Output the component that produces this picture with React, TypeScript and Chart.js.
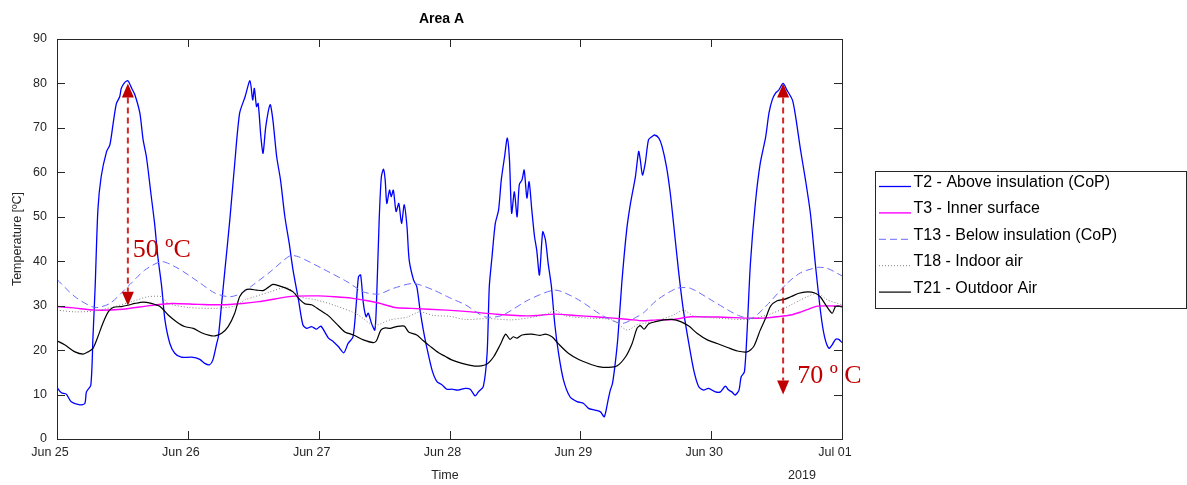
import { useEffect, useRef } from 'react';
import { Chart, registerables } from 'chart.js';

Chart.register(...registerables);

// ---------- data ----------
const dayLabels = ['Jun 25', 'Jun 26', 'Jun 27', 'Jun 28', 'Jun 29', 'Jun 30', 'Jul 01'];
const yMin = 0;
const yMax = 90;
const yStep = 10;

const seriesNames = [
  'T2 - Above insulation (CoP)',
  'T3 - Inner surface',
  'T13 - Below insulation (CoP)',
  'T18 - Indoor air',
  'T21 - Outdoor Air',
];

// hours since Jun 25 00:00
const t2Hours = [0, 0.8, 1.7, 2.6, 4.2, 5.1, 5.4, 6.2, 6.6, 7.0, 7.5, 8.1, 9.1, 9.7, 10.3, 10.9, 11.5, 11.8, 12.4, 13.0, 13.7, 14.3, 15.2, 15.8, 16.4, 17.3, 17.9, 18.5, 19.2, 19.8, 20.7, 21.6, 22.8, 24.7, 26.2, 27.1, 28.0, 28.6, 29.3, 29.6, 30.2, 30.8, 31.7, 32.6, 33.5, 34.5, 35.4, 35.9, 36.2, 36.6, 36.9, 37.4, 37.8, 38.3, 39.1, 39.6, 40.3, 41.0, 41.8, 42.6, 43.3, 44.3, 45.1, 45.8, 46.7, 47.6, 48.4, 49.8, 50.7, 51.6, 52.6, 53.4, 54.3, 54.9, 55.3, 55.7, 56.2, 56.7, 57.1, 57.7, 58.3, 58.6, 59.1, 59.5, 59.9, 60.2, 60.5, 61.0, 61.3, 61.7, 62.2, 62.7, 63.2, 63.7, 64.2, 64.6, 65.4, 66.0, 66.6, 67.2, 67.8, 68.8, 69.7, 70.6, 71.5, 72.4, 73.6, 74.9, 75.8, 76.7, 77.3, 78.2, 78.9, 79.3, 79.8, 80.4, 81.0, 81.5, 82.1, 82.6, 83.0, 83.4, 83.9, 84.4, 84.8, 85.3, 85.7, 86.2, 86.6, 87.1, 87.6, 88.0, 88.5, 89.1, 89.6, 90.1, 90.7, 91.3, 92.0, 92.9, 94.1, 95.4, 96.6, 97.5, 98.7, 99.7, 100.4, 101.1, 101.5, 101.9, 102.4, 102.9, 103.6, 104.5, 105.2, 106.1, 106.7, 107.0, 107.4, 107.9, 108.5, 109.1, 109.6, 110.4, 111.0, 111.8, 112.5, 113.1, 114.0, 114.9, 115.9, 116.8, 117.7, 118.6, 119.5, 120.8, 121.7, 122.6, 123.2, 123.8, 124.4, 125.1, 125.5, 126.1, 126.6, 127.2, 128.1, 129.0, 130.0, 130.6, 131.2, 131.8, 132.4, 133.2, 133.9, 134.9, 135.5, 136.4, 137.3, 138.2, 139.1, 140.1, 140.8, 141.6, 142.2, 142.8, 143.4, 144];
const t2Temp = [11.6, 10.4, 10.1, 8.4, 7.7, 8.0, 10.6, 12.1, 23, 34.3, 51.5, 59, 64.7, 66.2, 71, 75.5, 77, 78.9, 80.2, 80.6, 78.9, 77.4, 73.3, 67.3, 63.5, 54.5, 48.5, 41, 34.3, 26.8, 21.5, 19.3, 18.4, 18.4, 17.9, 17, 16.7, 17.8, 21.5, 23, 30.5, 38, 49.3, 62, 73.3, 77, 80.6, 76.3, 78.9, 74.8, 75.5, 68, 64.3, 70.3, 75.2, 71.8, 63.5, 58.3, 50, 44, 38, 31.3, 25.7, 24.9, 25.3, 24.7, 25.4, 22.7, 21.9, 20.8, 19.4, 21.5, 23, 30.5, 36.5, 36.9, 30.5, 27.5, 28.3, 26, 24.5, 30.5, 49.3, 59, 60.7, 58.3, 53, 56, 54.5, 56, 51.2, 53, 48.5, 52.7, 47.8, 40.3, 35.8, 34.3, 29, 24.5, 20.8, 15.5, 12.9, 12.2, 11.2, 11.2, 11, 11.4, 11.2, 9.7, 10.6, 11.8, 19.3, 34.3, 41, 48.5, 51.5, 58.3, 63.5, 67.7, 62.8, 50.8, 55.6, 50, 57.2, 58.3, 60.5, 54.2, 57.9, 51.5, 45.5, 42.5, 36.9, 46.6, 44.8, 39.5, 34.3, 26, 19.3, 13.3, 9.5, 8.4, 8, 6.9, 6.5, 6.1, 5.0, 8.8, 11, 12.5, 17, 23, 35, 47, 53, 59, 64.7, 62.8, 59.4, 62, 67.3, 68, 68.4, 67.7, 65.8, 61.3, 55.3, 48.5, 38, 29, 21.5, 15.5, 11.8, 11, 11.4, 10.6, 10.6, 11.9, 11, 10.6, 9.9, 11, 14, 15.1, 24.5, 39.5, 53, 62, 68, 73.3, 76.3, 77.8, 78.5, 80, 78.5, 76.3, 72.5, 65, 58.3, 50.8, 39.5, 28.3, 23, 20.4, 21.2, 22.4, 22.4, 21.7];

const t3Hours = [0, 3, 7, 12, 17, 21, 26, 30, 34, 37, 40, 43, 48, 51, 54, 57, 59, 62, 65, 71.5, 76, 80.4, 86.5, 91.4, 95, 98.7, 102, 104.9, 107.5, 110, 113.1, 116.2, 122.3, 126.6, 129.6, 132, 134.6, 136.5, 137.6, 139.5, 144];
const t3Temp = [29.8, 29.5, 29.0, 29.2, 30.0, 30.5, 30.3, 30.2, 30.5, 30.9, 31.5, 32.1, 32.2, 32.0, 31.7, 31.1, 30.6, 29.6, 29.4, 29.0, 28.6, 28.1, 27.7, 28.1, 27.8, 27.5, 27.2, 26.9, 26.6, 26.8, 26.9, 27.5, 27.4, 27.2, 27.2, 27.5, 27.9, 28.6, 29.1, 29.9, 29.9];

const t13Hours = [0, 3.3, 6.9, 9.7, 13, 16.1, 19.2, 22.2, 25.9, 29, 31.7, 33.9, 36, 39.1, 42.7, 44.3, 48.9, 53.2, 56.2, 59, 61.7, 65.4, 69.1, 72, 74.9, 78.5, 81.6, 86.5, 91.4, 95.7, 100, 103.6, 106.4, 107.6, 110.1, 113.7, 116.2, 120.5, 124.8, 127.5, 130.3, 133.9, 136.4, 139.5, 141.3, 144];
const t13Temp = [35.9, 32, 29.6, 30.5, 34.3, 38, 39.9, 38.4, 35.4, 32.8, 32, 32.8, 34.7, 37.6, 41.2, 41, 38.2, 35.4, 33.1, 32.6, 33.9, 35, 33.5, 31.8, 30.2, 27.5, 27.8, 31.3, 33.5, 31.3, 27.8, 26, 27.5, 28.4, 31.3, 33.9, 33.9, 30.9, 27.9, 27.2, 30.2, 35, 37.4, 38.6, 38.4, 36.7];

const t18Hours = [0, 3.3, 6.8, 10, 13.7, 16.7, 19.2, 20.4, 24.1, 29, 32.6, 34.5, 36.2, 39.1, 42.1, 44.6, 47.6, 51.3, 55, 57.4, 58.6, 61.1, 64.2, 66.5, 69, 72, 74.9, 79.2, 83.4, 87.7, 90.2, 91.4, 93.2, 97.5, 101.8, 104.6, 106.4, 107.6, 110.1, 113.1, 114.9, 116.8, 121.1, 126.6, 130.3, 133.4, 136.4, 139.5, 141.3, 144];
const t18Temp = [29.0, 28.6, 28.8, 29.6, 30.9, 32, 32, 30.5, 29.6, 29.4, 29.9, 31.3, 32, 33.1, 34.1, 32, 31.3, 29.9, 28.1, 26, 25.6, 26.8, 27.4, 28.6, 27.8, 27.6, 26.9, 27.1, 26.8, 27.5, 28.3, 29, 27.7, 27.2, 26.8, 24.5, 25.7, 26, 26.6, 27.9, 29, 27.7, 27.2, 26.9, 27.9, 29.4, 31.3, 32.8, 31.3, 30.2];

const t21Hours = [0, 1.4, 3.3, 4.8, 5.7, 6.6, 7.5, 8.4, 9.4, 10.3, 11.8, 13.0, 14.3, 15.8, 17.3, 18.9, 20.4, 21.9, 23.4, 25.0, 26.5, 28.0, 29.0, 30.2, 31.4, 32.6, 33.5, 34.5, 35.4, 36.6, 37.8, 38.5, 39.6, 40.9, 42.1, 43.3, 44.6, 45.5, 46.7, 48.2, 49.8, 51.3, 52.8, 54.4, 56.2, 58.0, 58.6, 59.4, 60.2, 61.1, 62.3, 63.7, 64.5, 66.0, 67.2, 68.4, 70.0, 71.2, 72.4, 74.3, 76.1, 77.3, 78.9, 80.1, 81.3, 82.3, 83.1, 83.7, 84.4, 85.3, 87.1, 88.6, 89.6, 90.8, 92.0, 93.8, 95.7, 97.5, 99.3, 101.2, 102.7, 104.3, 105.5, 106.4, 107.0, 107.7, 108.5, 109.8, 111.3, 112.8, 114.4, 115.9, 117.4, 119.3, 121.1, 123.0, 124.8, 126.6, 127.8, 129.0, 130.0, 130.9, 132.1, 133.4, 134.6, 136.1, 137.6, 138.9, 140.0, 141.0, 142.2, 142.8, 143.4, 144];
const t21Temp = [22.1, 21.2, 19.6, 19.1, 19.6, 20.4, 23, 26, 28.6, 29.6, 29.8, 30.1, 30.5, 30.8, 30.5, 29.8, 27.9, 26.4, 25.3, 24.9, 23.9, 23.3, 23.2, 23.8, 25.3, 28.3, 32, 33.5, 33.7, 33.5, 33.4, 33.9, 34.8, 34.4, 33.9, 33.1, 31.3, 30.4, 30.2, 29, 27.7, 25.9, 24.1, 23.4, 22.3, 21.7, 22.1, 24.5, 25, 24.9, 25.3, 25.4, 24.1, 23.4, 22.1, 20.9, 19.4, 18.6, 17.8, 17, 16.5, 16.4, 16.9, 18.5, 21.2, 23.6, 22.4, 23, 22.7, 23.4, 23.6, 23.3, 23.6, 23, 21.4, 19.3, 17.9, 17, 16.3, 16.1, 16.4, 18.5, 21.5, 24.9, 25.5, 24.7, 25.9, 26.4, 26.8, 26.9, 26.4, 25.4, 23.8, 22.3, 21.5, 20.6, 19.8, 19.6, 20.8, 24.5, 27.2, 29.9, 31.1, 31.4, 32, 32.8, 33.1, 32.9, 32, 30.2, 28.3, 29.8, 29.9, 29.7];

// annotation arrows (hour, upper tip, lower tip, label, label anchor temperature)
const arrowHours = [13.0, 133.2];
const arrowTop = [80, 80];
const arrowBottom = [30, 10];
const arrowTexts = ['50 ºC', '70 º C'];
const arrowTextTemp = [41, 12.5];

// ---------- styles ----------
const seriesColors = ['#0000ff', '#ff00ff', '#6b6bff', '#808080', '#000000'];
const seriesDash: number[][] = [[], [], [7, 4], [1, 2], []];
const seriesWidths = [1.3, 1.4, 1, 1, 1.2];
const axisColor = '#262626';
const tickFont = '12.5px "Liberation Sans", Arial, sans-serif';
const redDark = '#c00000';

const seriesHours = [t2Hours, t3Hours, t13Hours, t18Hours, t21Hours];
const seriesTemps = [t2Temp, t3Temp, t13Temp, t18Temp, t21Temp];

const decorPlugin = {
  id: 'decor',
  afterDraw(chart: any) {
    const { ctx, chartArea: a, scales } = chart;
    const x = scales.x;
    const y = scales.y;
    ctx.save();

    // box
    ctx.strokeStyle = axisColor;
    ctx.lineWidth = 1;
    ctx.setLineDash([]);
    ctx.strokeRect(a.left + 0.5, a.top + 0.5, a.right - a.left, a.bottom - a.top);

    // inward ticks
    ctx.beginPath();
    for (let v = yMin; v <= yMax; v += yStep) {
      const py = Math.round(y.getPixelForValue(v)) + 0.5;
      ctx.moveTo(a.left, py);
      ctx.lineTo(a.left + 8, py);
      ctx.moveTo(a.right, py);
      ctx.lineTo(a.right - 8, py);
    }
    for (let i = 0; i < dayLabels.length; i++) {
      const px = Math.round(x.getPixelForValue(i * 24)) + 0.5;
      ctx.moveTo(px, a.bottom);
      ctx.lineTo(px, a.bottom - 8);
      ctx.moveTo(px, a.top);
      ctx.lineTo(px, a.top + 8);
    }
    ctx.stroke();

    // title
    ctx.fillStyle = '#000';
    ctx.font = 'bold 14px "Liberation Sans", Arial, sans-serif';
    ctx.textAlign = 'center';
    ctx.textBaseline = 'middle';
    ctx.fillText('Area A', 441.5, 19.5);

    // axis labels
    ctx.fillStyle = axisColor;
    ctx.font = tickFont;
    ctx.fillText('Time', 445, 475.5);
    ctx.fillText('2019', 802, 475.5);
    ctx.save();
    ctx.translate(17.5, (a.top + a.bottom) / 2);
    ctx.rotate(-Math.PI / 2);
    ctx.fillText('Temperature [ºC]', 0, 0);
    ctx.restore();

    // legend
    const lx = 875.5, ly = 171.5, lw = 311, lh = 137;
    ctx.strokeStyle = axisColor;
    ctx.lineWidth = 1;
    ctx.setLineDash([]);
    ctx.fillStyle = '#fff';
    ctx.fillRect(lx, ly, lw, lh);
    ctx.strokeRect(lx, ly, lw, lh);
    ctx.font = '16px "Liberation Sans", Arial, sans-serif';
    ctx.textAlign = 'left';
    for (let i = 0; i < seriesNames.length; i++) {
      const cy = 182.5 + i * 26.4;
      ctx.strokeStyle = seriesColors[i];
      ctx.lineWidth = seriesWidths[i];
      ctx.setLineDash(seriesDash[i]);
      ctx.beginPath();
      ctx.moveTo(879, cy + 4);
      ctx.lineTo(911, cy + 4);
      ctx.stroke();
      ctx.setLineDash([]);
      ctx.fillStyle = '#000';
      ctx.fillText(seriesNames[i], 913.5, cy);
    }

    // arrows
    for (let i = 0; i < arrowHours.length; i++) {
      const px = x.getPixelForValue(arrowHours[i]);
      const pTop = y.getPixelForValue(arrowTop[i]);
      const pBot = y.getPixelForValue(arrowBottom[i]);
      const head = 14;
      const half = 6;
      ctx.strokeStyle = 'rgba(204,0,0,0.85)';
      ctx.lineWidth = 2;
      ctx.setLineDash([6, 4]);
      ctx.beginPath();
      ctx.moveTo(px, pTop + head);
      ctx.lineTo(px, pBot - head);
      ctx.stroke();
      ctx.setLineDash([]);
      ctx.fillStyle = redDark;
      ctx.beginPath();
      ctx.moveTo(px, pTop);
      ctx.lineTo(px - half, pTop + head);
      ctx.lineTo(px + half, pTop + head);
      ctx.closePath();
      ctx.fill();
      ctx.beginPath();
      ctx.moveTo(px, pBot);
      ctx.lineTo(px - half, pBot - head);
      ctx.lineTo(px + half, pBot - head);
      ctx.closePath();
      ctx.fill();
      ctx.font = '26px "Liberation Serif", "Times New Roman", serif';
      ctx.textAlign = 'left';
      ctx.textBaseline = 'alphabetic';
      ctx.fillText(arrowTexts[i], px + (i === 0 ? 5 : 14), y.getPixelForValue(arrowTextTemp[i]));
    }

    ctx.restore();
  },
};

export default function App() {
  const canvasRef = useRef<HTMLCanvasElement | null>(null);

  useEffect(() => {
    const canvas = canvasRef.current;
    if (!canvas) return;
    const datasets = seriesNames.map((name, i) => ({
      label: name,
      data: seriesHours[i].map((h, j) => ({ x: h, y: seriesTemps[i][j] })),
      borderColor: seriesColors[i],
      backgroundColor: seriesColors[i],
      borderWidth: seriesWidths[i],
      borderDash: seriesDash[i],
      pointRadius: 0,
      tension: 0.25,
      fill: false,
      order: seriesNames.length - i,
    }));

    const chart = new Chart(canvas, {
      type: 'line',
      data: { datasets },
      plugins: [decorPlugin],
      options: {
        animation: false,
        responsive: false,
        layout: { padding: { left: 0, top: 39, right: 345, bottom: 0 } },
        plugins: {
          legend: { display: false },
          title: { display: false },
          tooltip: { enabled: false },
        },
        scales: {
          x: {
            type: 'linear',
            min: 0,
            max: 144,
            grid: { display: false, drawTicks: false },
            border: { display: false },
            ticks: {
              stepSize: 24,
              autoSkip: false,
              maxRotation: 0,
              padding: 6,
              labelOffset: -7,
              color: axisColor,
              font: { family: '"Liberation Sans", Arial, sans-serif', size: 12.5 },
              callback: (v: any) => dayLabels[Math.round(Number(v) / 24)] ?? '',
            },
            afterFit: (s: any) => {
              s.height = 46;
            },
          },
          y: {
            type: 'linear',
            min: yMin,
            max: yMax,
            grid: { display: false, drawTicks: false },
            border: { display: false },
            ticks: {
              stepSize: yStep,
              padding: 10,
              color: axisColor,
              font: { family: '"Liberation Sans", Arial, sans-serif', size: 12.5 },
            },
            afterFit: (s: any) => {
              s.width = 57;
            },
          },
        },
      },
    });
    return () => chart.destroy();
  }, []);

  return (
    <div style={{ position: 'fixed', left: 0, top: 0, width: 1187, height: 485, background: '#fff' }}>
      <canvas ref={canvasRef} width={1187} height={485} style={{ display: 'block' }} />
    </div>
  );
}
